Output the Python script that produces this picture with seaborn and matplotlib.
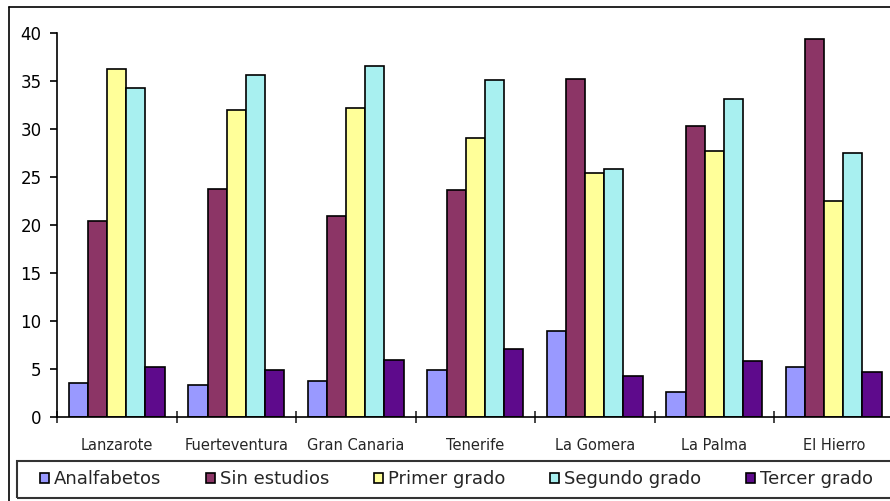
import pandas as pd
import seaborn as sns
import matplotlib.pyplot as plt
from matplotlib.patches import Rectangle
from matplotlib.lines import Line2D

islas = ["Lanzarote", "Fuerteventura", "Gran Canaria", "Tenerife",
         "La Gomera", "La Palma", "El Hierro"]
niveles = ["Analfabetos", "Sin estudios", "Primer grado", "Segundo grado", "Tercer grado"]

analfabetos = [3.5, 3.3, 3.7, 4.9, 9.0, 2.6, 5.2]
sin_estudios = [20.4, 23.8, 20.9, 23.6, 35.2, 30.3, 39.4]
primer_grado = [36.2, 32.0, 32.2, 29.1, 25.4, 27.7, 22.5]
segundo_grado = [34.3, 35.6, 36.6, 35.1, 25.8, 33.1, 27.5]
tercer_grado = [5.2, 4.9, 5.9, 7.1, 4.3, 5.8, 4.7]

colores = ["#9999ff", "#8c3566", "#ffff99", "#a8f0f0", "#5e0a8c"]

series = [analfabetos, sin_estudios, primer_grado, segundo_grado, tercer_grado]
rows = []
for nivel, valores in zip(niveles, series):
    for isla, v in zip(islas, valores):
        rows.append({"isla": isla, "nivel": nivel, "valor": v})
df = pd.DataFrame(rows)

sns.set_style("white")
plt.rcParams['font.family'] = ['DejaVu Sans']

fig = plt.figure(figsize=(8.9, 5.01), dpi=100)
ax = fig.add_axes([57 / 890, 84 / 501, 836.5 / 890, 384 / 501])

sns.barplot(data=df, x="isla", y="valor", hue="nivel", order=islas, hue_order=niveles,
            palette=colores, edgecolor="black", linewidth=1.2, width=0.8,
            saturation=1, ax=ax)

ax.set_xlim(-0.5, 6.5)
ax.set_ylim(0, 40)
ax.set_yticks(range(0, 41, 5))
ax.set_xlabel("")
ax.set_ylabel("")
sns.despine(ax=ax)
for s in ["left", "bottom"]:
    ax.spines[s].set_color("black")
    ax.spines[s].set_linewidth(1.2)

ax.tick_params(axis="y", left=True, length=5, width=1.2, direction="out",
               pad=6, labelsize=12, colors="black")
ax.tick_params(axis="x", which="major", length=0, pad=15, labelsize=10.5)
ax.set_xticks([i + 0.5 for i in range(-1, 7)], minor=True)
ax.tick_params(axis="x", which="minor", bottom=True, length=8, width=1.2,
               direction="inout")

handles, labels = ax.get_legend_handles_labels()
ax.legend_.remove()
fig.legend(handles, labels, ncol=5, loc="center left",
           bbox_to_anchor=(40 / 890, 21.5 / 501), frameon=False,
           fontsize=13, handlelength=0.5, handleheight=0.5,
           handletextpad=0.25, columnspacing=2.5, borderpad=0, borderaxespad=0)

# legend box and outer chart border
fig.add_artist(Rectangle((17 / 890, 3 / 501), 1.1, 37 / 501, transform=fig.transFigure,
                         fill=False, edgecolor="#333333", linewidth=1.5))
fig.add_artist(Line2D([9 / 890, 9 / 890], [0, 494 / 501], transform=fig.transFigure,
                      color="black", linewidth=1.2))
fig.add_artist(Line2D([9 / 890, 1], [494 / 501, 494 / 501], transform=fig.transFigure,
                      color="black", linewidth=1.2))

fig.savefig("out.png", dpi=100)
plt.close(fig)
